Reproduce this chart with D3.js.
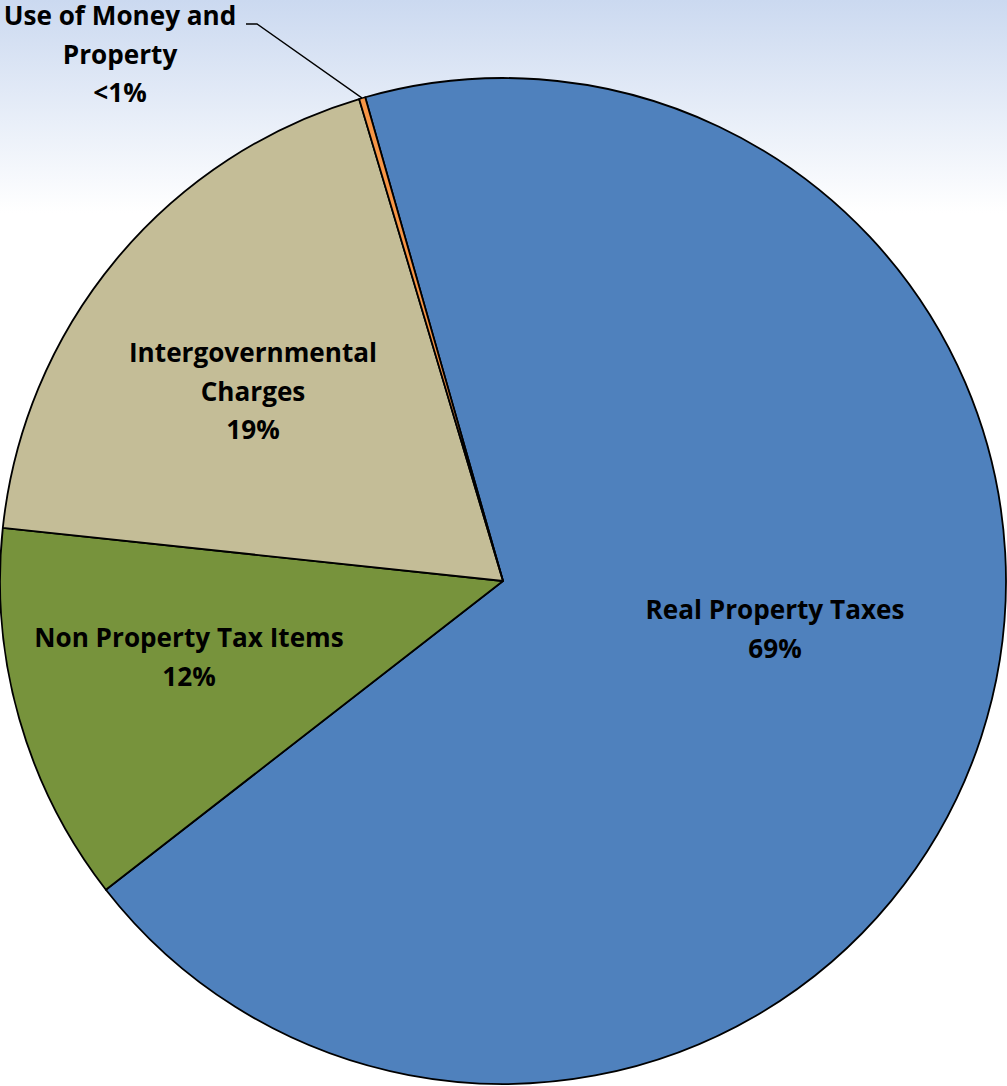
<!DOCTYPE html>
<html><head><meta charset="utf-8">
<script src="https://cdn.jsdelivr.net/npm/d3@7"></script>
<style>html,body{margin:0;padding:0;background:#fff;overflow:hidden}</style>
</head><body>
<svg id="chart" width="1007" height="1086"></svg>
<script>
const categories = ["Real Property Taxes", "Non Property Tax Items", "Intergovernmental Charges", "Use of Money and Property"];
const values = [68.9, 12.2, 18.7, 0.2];
const labelLines = [["Real Property Taxes", "69%"], ["Non Property Tax Items", "12%"], ["Intergovernmental", "Charges", "19%"], ["Use of Money and", "Property", "<1%"]];
const colors = ["#4f81bd", "#77933c", "#c4bd97", "#f79646"];

const svg = d3.select("#chart");
const W = 1007, H = 1086;
const cx = 503, cy = 581, R = 503;

const defs = svg.append("defs");
const grad = defs.append("linearGradient").attr("id", "bg").attr("x1", 0).attr("y1", 0).attr("x2", 0).attr("y2", 1);
grad.append("stop").attr("offset", "0%").attr("stop-color", "#cbd9f0");
grad.append("stop").attr("offset", "19.6%").attr("stop-color", "#ffffff");
grad.append("stop").attr("offset", "100%").attr("stop-color", "#ffffff");
svg.append("rect").attr("width", W).attr("height", H).attr("fill", "url(#bg)");

const startDeg = -15.9;
const pie = d3.pie().sort(null).value(d => d)
  .startAngle(startDeg * Math.PI / 180).endAngle((startDeg + 360) * Math.PI / 180);
const arcs = pie(values);
const arc = d3.arc().innerRadius(0).outerRadius(R);

const g = svg.append("g").attr("transform", `translate(${cx},${cy})`);
g.selectAll("path").data(arcs).join("path")
  .attr("d", arc)
  .attr("fill", (d, i) => colors[i])
  .attr("stroke", "#000").attr("stroke-width", 1.8).attr("stroke-linejoin", "round");

const fontFamily = "'Open Sans', 'Noto Sans', sans-serif";
// fit font size so the widest label matches the reference width
const probe = svg.append("text").attr("font-family", fontFamily).attr("font-weight", "bold")
  .attr("font-size", 100).text("Real Property Taxes");
const fontSize = 100 * 259 / probe.node().getComputedTextLength();
probe.remove();

const labelPos = [[272, 38], [-314, 66], [-250, -219], [-383, -556]];
const lineH = 38.5;

labelLines.forEach((lines, i) => {
  const [lx, ly] = labelPos[i];
  const t = g.append("text")
    .attr("text-anchor", "middle")
    .attr("font-family", fontFamily)
    .attr("font-weight", "bold")
    .attr("font-size", fontSize)
    .attr("fill", "#000");
  lines.forEach((s, k) => {
    t.append("tspan").attr("x", lx).attr("y", ly + k * lineH).text(s);
  });
});

// leader line for the small slice
const small = arcs[3];
const mid = (small.startAngle + small.endAngle) / 2;
const ex = R * Math.sin(mid), ey = -R * Math.cos(mid);
g.append("polyline")
  .attr("points", `${246 - cx},${24 - cy} ${257 - cx},${24 - cy} ${ex},${ey}`)
  .attr("fill", "none").attr("stroke", "#000").attr("stroke-width", 1.3);
</script>
</body></html>
